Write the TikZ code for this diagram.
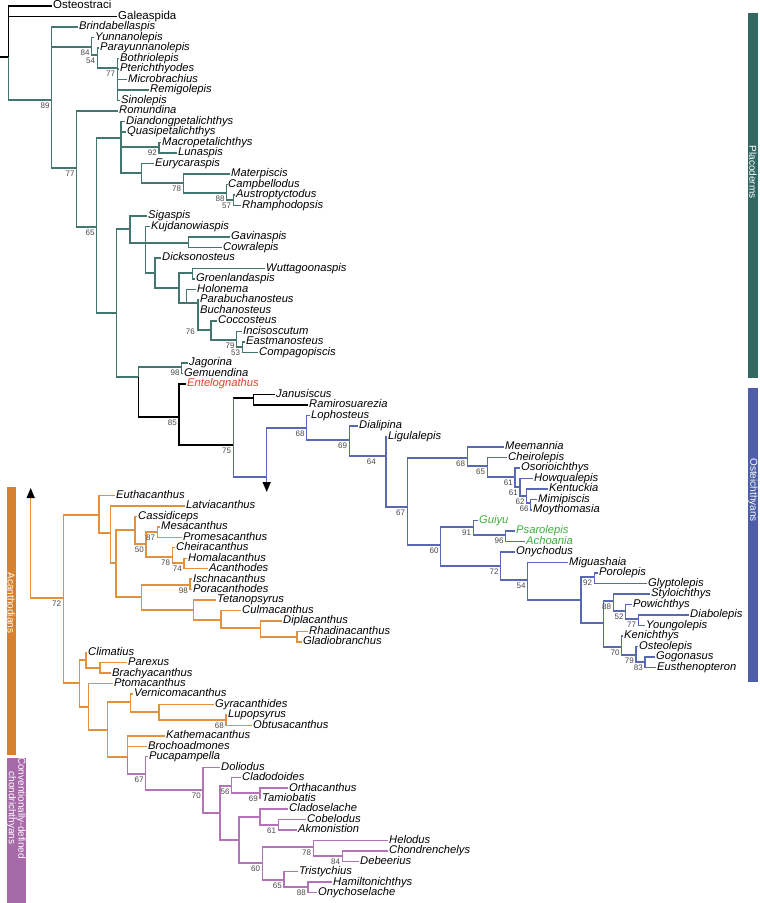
\documentclass[tikz,border=0pt]{standalone}
\usepackage{fontspec}
\setmainfont{Liberation Sans}
\usetikzlibrary{arrows.meta}
\definecolor{plac}{RGB}{66,118,110}
\definecolor{placbar}{RGB}{50,104,100}
\definecolor{ostc}{RGB}{88,104,178}
\definecolor{ostbar}{RGB}{78,94,168}
\definecolor{acac}{RGB}{226,144,62}
\definecolor{acabar}{RGB}{213,129,47}
\definecolor{choc}{RGB}{178,116,182}
\definecolor{chobar}{RGB}{166,106,168}
\definecolor{entel}{RGB}{232,62,40}
\definecolor{guiyc}{RGB}{58,176,58}
\definecolor{svgray}{RGB}{70,70,70}
\begin{document}
\begin{tikzpicture}[x=1pt, y=-1pt,
  blk/.style={draw=black, line width=1.4pt},
  pl/.style={draw=plac, line width=1.4pt},
  ost/.style={draw=ostc, line width=1.4pt},
  aca/.style={draw=acac, line width=1.4pt},
  cho/.style={draw=choc, line width=1.4pt},
  tx/.style={anchor=west, inner xsep=1pt, inner ysep=0pt, text height=7.6pt, text depth=1.8pt,
    font=\fontsize{11.2}{11}\selectfont\itshape},
  og/.style={font=\fontsize{11.5}{11}\selectfont},
  ig/.style={},
  ent/.style={text=entel},
  grn/.style={text=guiyc},
  sv/.style={anchor=north east, inner sep=0pt, font=\fontsize{8}{8}\selectfont, text=svgray},
  bartx/.style={rotate=-90, text=white, font=\fontsize{10}{9.5}\selectfont, align=center},
  arrowhd/.style={-{Triangle[length=10pt,width=8pt,color=black]}}]
\useasboundingbox (0,0) rectangle (760,903);

% taxa, upper half
\foreach \nm/\xx/\st [count=\i from 0] in {Osteostraci/52/og, Galeaspida/117/og,
  Brindabellaspis/78/ig, Yunnanolepis/94/ig, Parayunnanolepis/99/ig, Bothriolepis/119/ig,
  Pterichthyodes/119/ig, Microbrachius/127/ig, Remigolepis/149/ig, Sinolepis/120/ig,
  Romundina/118/ig, Diandongpetalichthys/125/ig, Quasipetalichthys/126/ig,
  Macropetalichthys/161/ig, Lunaspis/177/ig, Eurycaraspis/154/ig, Materpiscis/230/ig,
  Campbellodus/227/ig, Austroptyctodus/235/ig, Rhamphodopsis/241/ig, Sigaspis/147/ig,
  Kujdanowiaspis/150/ig, Gavinaspis/230/ig, Cowralepis/222/ig, Dicksonosteus/161/ig,
  Wuttagoonaspis/265/ig, Groenlandaspis/195/ig, Holonema/196/ig, Parabuchanosteus/199/ig,
  Buchanosteus/199/ig, Coccosteus/217/ig, Incisoscutum/242/ig, Eastmanosteus/245/ig,
  Compagopiscis/258/ig, Jagorina/188/ig, Gemuendina/183/ig, Entelognathus/186/ent,
  Janusiscus/275/ig, Ramirosuarezia/308/ig, Lophosteus/310/ig, Dialipina/358/ig,
  Ligulalepis/387/ig, Meemannia/504/ig, Cheirolepis/507/ig, Osorioichthys/520/ig,
  Howqualepis/533/ig, Kentuckia/548/ig, Mimipiscis/537/ig, Moythomasia/532/ig,
  Guiyu/478/grn, Psarolepis/515/grn, Achoania/525/grn, Onychodus/515/ig, Miguashaia/568/ig,
  Porolepis/598/ig, Glyptolepis/647/ig, Styloichthys/650/ig, Powichthys/632/ig,
  Diabolepis/689/ig, Youngolepis/645/ig, Kenichthys/623/ig, Osteolepis/638/ig,
  Gogonasus/655/ig, Eusthenopteron/656/ig}
  \node[tx,\st] (\nm) at (\xx,{6+\i*10.5}) {\nm};

% taxa, lower half
\foreach \nm/\xx [count=\i from 0] in {Euthacanthus/115, Latviacanthus/185, Cassidiceps/137,
  Mesacanthus/160, Promesacanthus/182, Cheiracanthus/175, Homalacanthus/187, Acanthodes/208,
  Ischnacanthus/192, Poracanthodes/192, Tetanopsyrus/216, Culmacanthus/241, Diplacanthus/282,
  Rhadinacanthus/308, Gladiobranchus/302, Climatius/87, Parexus/127, Brachyacanthus/111,
  Ptomacanthus/113, Vernicomacanthus/133, Gyracanthides/214, Lupopsyrus/227,
  Obtusacanthus/252, Kathemacanthus/165, Brochoadmones/147, Pucapampella/148, Doliodus/220,
  Cladodoides/241, Orthacanthus/288, Tamiobatis/261, Cladoselache/288, Cobelodus/306,
  Akmonistion/297, Helodus/388, Chondrenchelys/388, Debeerius/359, Tristychius/298,
  Hamiltonichthys/332, Onychoselache/317}
  \node[tx] (\nm) at (\xx,{495.5+\i*10.45}) {\nm};

% internal nodes
\foreach \n/\xx/\yy in {stub/0/57, root/8.5/57, gnath/51.7/100, anti/91.7/47, n54/97.3/55,
  bothr/117.3/68, n77/76.7/168, n65/96.7/227, pet/121/138, ml/159/147, eury/141.7/173,
  mater/183.3/183, campb/226.7/193, austr/233.3/200, arth/116.7/313, sig/130/229,
  kuj/145.7/243, gav/188.3/243, dick/155/273, n179/179/288, wutt/192.7/273, hol/186.7/303,
  n76/198/303, cocc/211/330, n79/236.7/340, n53/242.3/347, n138/138.3/377, jag/181.7/367,
  n85/179/417, n75/233.3/445, janu/253.3/398, crown/266.7/477, chondarrow/266.7/492,
  ost/306.7/428, dial/349.3/440, ligu/386/456, n67/407.3/507, act/467.3/458, chei/487.3/466,
  n61a/515/477, n61b/520/487, n62/526.7/496, n66/530.7/503, sarc/440.7/545, guiy/473.3/527,
  psar/505.7/535, n72/500.7/566, n54b/527.7/580, rhip/581/600, poro/594.3/577,
  tetr/603.3/623, styl/613.3/601, n52/625.7/611, n77c/638.3/619, n70/621.7/647,
  n79b/636/655, n83/645/662}
  \coordinate (\n) at (\xx,\yy);
\foreach \n/\xx/\yy in {acan/63.3/598, acanarrow/30.7/488, atop/99/515, lat/110.7/533,
  aca/116/563, cass/135/530, n50/146/544, n87/157.3/532, n78b/172.3/557, n74/184/563,
  isch/141.7/597, n98/190/585, tet/193.3/610, culm/221/620, dipl/260.7/628, rhad/297/637,
  abot/79.3/683, clim/86/660, pare/100/668, ptom/88.3/707, vern/107.7/730, verm/130.7/702,
  gyra/159/712, n68b/226/720, kath/127.3/757, n67b/145.7/774, n70b/203/790, elas/220/813,
  n56/231.7/786, n69/260/793, cl2/239/840, clad/260/817, n61c/278.3/825, n60/262.3/863,
  n78c/313.3/847, n84/342.3/856, n65c/284/880, n88b/308/887}
  \coordinate (\n) at (\xx,\yy);

% branches
\draw[blk] (stub) -- (root);
\foreach \p/\c in {root/Osteostraci, root/Galeaspida, n138/n85, n85/Entelognathus, n85/n75,
  janu/Janusiscus, janu/Ramirosuarezia}
  \draw[blk] (\p) |- (\c);
\draw[blk] (n75 |- janu) -- (janu);

\foreach \p/\c in {root/gnath, gnath/Brindabellaspis, gnath/anti, gnath/n77,
  anti/Yunnanolepis, anti/n54, n54/Parayunnanolepis, n54/bothr, bothr/Bothriolepis,
  bothr/Pterichthyodes, bothr/Microbrachius, bothr/Remigolepis, bothr/Sinolepis,
  n77/Romundina, n77/n65, n65/pet, n65/arth, pet/Diandongpetalichthys,
  pet/Quasipetalichthys, pet/ml, pet/eury, ml/Macropetalichthys, ml/Lunaspis,
  eury/Eurycaraspis, eury/mater, mater/Materpiscis, mater/campb, campb/Campbellodus,
  campb/austr, austr/Austroptyctodus, austr/Rhamphodopsis, arth/sig, arth/n138,
  sig/Sigaspis, sig/kuj, kuj/Kujdanowiaspis, kuj/gav, kuj/dick, gav/Gavinaspis,
  gav/Cowralepis, dick/Dicksonosteus, dick/n179, n179/wutt, n179/hol,
  wutt/Wuttagoonaspis, wutt/Groenlandaspis, hol/Holonema, hol/n76,
  n76/Parabuchanosteus, n76/Buchanosteus, n76/cocc, cocc/Coccosteus, cocc/n79,
  n79/Incisoscutum, n79/n53, n53/Eastmanosteus, n53/Compagopiscis, n138/jag,
  jag/Jagorina, jag/Gemuendina}
  \draw[pl] (\p) |- (\c);

\draw[ost] (n75) -- (n75 |- janu);
\draw[ost,arrowhd] (crown) -- (chondarrow);
\foreach \p/\c in {n75/crown, crown/ost, ost/Lophosteus, ost/dial, dial/Dialipina,
  dial/ligu, ligu/Ligulalepis, ligu/n67, n67/act, n67/sarc, act/Meemannia, act/chei,
  chei/Cheirolepis, chei/n61a, n61a/Osorioichthys, n61a/n61b, n61b/Howqualepis,
  n61b/n62, n62/Kentuckia, n62/n66, n66/Mimipiscis, n66/Moythomasia, sarc/guiy,
  sarc/n72, guiy/Guiyu, guiy/psar, psar/Psarolepis, psar/Achoania, n72/Onychodus,
  n72/n54b, n54b/Miguashaia, n54b/rhip, rhip/poro, rhip/tetr, poro/Porolepis,
  poro/Glyptolepis, tetr/styl, tetr/n70, styl/Styloichthys, styl/n52, n52/Powichthys,
  n52/n77c, n77c/Diabolepis, n77c/Youngolepis, n70/Kenichthys, n70/n79b,
  n79b/Osteolepis, n79b/n83, n83/Gogonasus, n83/Eusthenopteron}
  \draw[ost] (\p) |- (\c);

\draw[aca,arrowhd] (acan) -| (acanarrow);
\foreach \p/\c in {acan/atop, acan/abot, atop/Euthacanthus, atop/lat, lat/Latviacanthus,
  lat/aca, aca/cass, aca/isch, cass/Cassidiceps, cass/n50, n50/n87, n50/n78b,
  n87/Mesacanthus, n87/Promesacanthus, n78b/Cheiracanthus, n78b/n74, n74/Homalacanthus,
  n74/Acanthodes, isch/n98, isch/tet, n98/Ischnacanthus, n98/Poracanthodes,
  tet/Tetanopsyrus, tet/culm, culm/Culmacanthus, culm/dipl, dipl/Diplacanthus, dipl/rhad,
  rhad/Rhadinacanthus, rhad/Gladiobranchus, abot/clim, abot/ptom, clim/Climatius,
  clim/pare, pare/Parexus, pare/Brachyacanthus, ptom/Ptomacanthus, ptom/vern, vern/verm,
  vern/kath, verm/Vernicomacanthus, verm/gyra, gyra/Gyracanthides, gyra/n68b,
  n68b/Lupopsyrus, n68b/Obtusacanthus, kath/Kathemacanthus, kath/Brochoadmones}
  \draw[aca] (\p) |- (\c);

\foreach \p/\c in {kath/n67b, n67b/Pucapampella, n67b/n70b, n70b/Doliodus, n70b/elas,
  elas/n56, elas/cl2, n56/Cladodoides, n56/n69, n69/Orthacanthus, n69/Tamiobatis,
  cl2/clad, cl2/n60, clad/Cladoselache, clad/n61c, n61c/Cobelodus, n61c/Akmonistion,
  n60/n78c, n60/n65c, n78c/Helodus, n78c/n84, n84/Chondrenchelys, n84/Debeerius,
  n65c/Tristychius, n65c/n88b, n88b/Hamiltonichthys, n88b/Onychoselache}
  \draw[cho] (\p) |- (\c);

% support values
\foreach \n/\v in {gnath/89, anti/84, n54/54, bothr/77, n77/77, n65/65, ml/92, mater/78,
  campb/88, austr/57, n79/79, n53/53, jag/98, n85/85, n75/75, ost/68, dial/69, n67/67,
  act/68, chei/65, n61a/61, n61b/61, n62/62, n66/66, sarc/60, guiy/91, psar/96, n72/72,
  n54b/54, poro/92, styl/88, n52/52, n77c/77, n70/70, n79b/79, n83/83, acan/72, n87/87,
  n50/50, n78b/78, n74/74, n98/98, n68b/68, n67b/67, n70b/70, n56/56, n69/69, n61c/61,
  n60/60, n78c/78, n84/84, n65c/65, n88b/88}
  \node[sv] (s-\n) at ([shift={(-2,3)}]\n) {\v};
\node[sv] (s-ligu) at ([shift={(-10,3)}]ligu) {64};
\node[sv] (s-n76) at (195,329) {76};

% clade bars
\fill[placbar] (747.7,12.7) rectangle (758.3,378);
\node[bartx] (lplac) at (753,172) {Placoderms};
\fill[ostbar] (747.7,388) rectangle (758.3,682);
\node[bartx] (lost) at (753,490) {Osteichthyans};
\fill[acabar] (6.7,487) rectangle (16,755);
\node[bartx] (laca) at (11.3,603) {Acanthodians};
\fill[chobar] (6.7,758) rectangle (26,903);
\node[bartx] (lcho) at (16.3,808) {Conventionally-defined\\chondrichthyans};
\end{tikzpicture}
\end{document}
